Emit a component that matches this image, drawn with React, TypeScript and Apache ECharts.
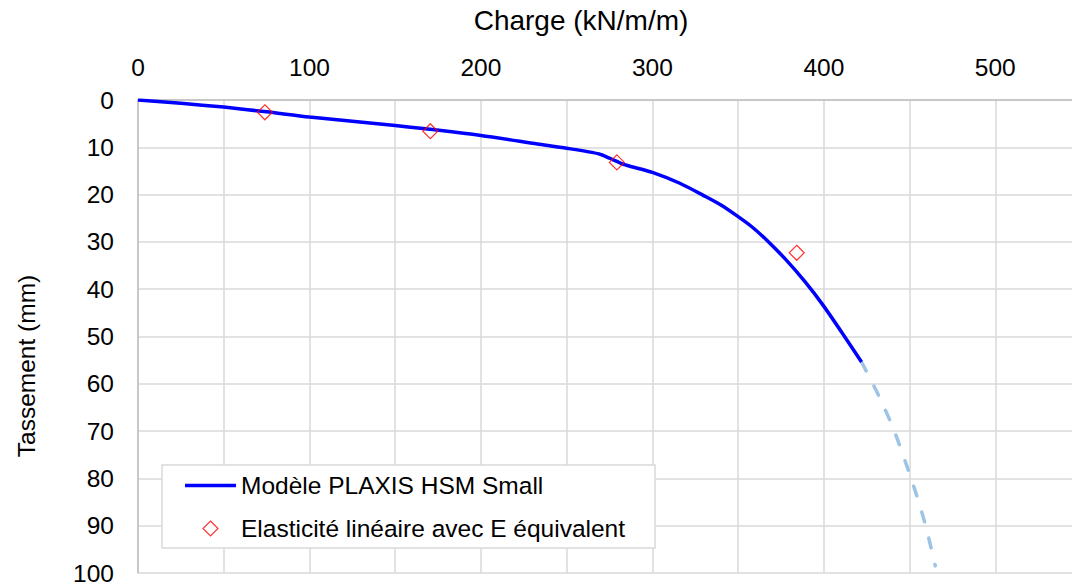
import React, { useEffect, useRef } from "react";
import * as echarts from "echarts";

const xTitle = "Charge (kN/m/m)";
const yTitle = "Tassement (mm)";
const plaxisName = "Modèle PLAXIS HSM Small";
const elasticName = "Elasticité linéaire avec E équivalent";

// PLAXIS curve [charge, tassement]
const plaxisData: number[][] = [
  [0, 0], [25, 0.7], [50, 1.5], [75, 2.5], [100, 3.6], [150, 5.4], [200, 7.5],
  [233, 9.3], [250, 10.2], [269, 11.4], [275, 12.3], [280, 13.1], [285, 13.8],
  [300, 15.3], [316, 17.6], [331, 20.4], [340, 22.2], [349, 24.4], [358, 26.8],
  [366, 29.4], [378, 33.8], [389, 38.4], [399, 43.1], [411, 49.4], [422, 55.4],
];
// Extrapolated (dashed) part
const extrapData: number[][] = [
  [422, 55.4], [432, 62.5], [441, 69.9], [452, 81.2], [459, 89.5], [465, 98.5],
];
// Linear elasticity points
const elasticData: number[][] = [
  [74, 2.6], [170.5, 6.6], [279.3, 13.2], [384.2, 32.3],
];

const FONT = "'Liberation Sans', Arial, sans-serif";

export default function App() {
  const ref = useRef<HTMLDivElement>(null);
  useEffect(() => {
    document.body.style.margin = "0";
    const chart = echarts.init(ref.current!, undefined, { renderer: "svg" });
    chart.setOption({
      animation: false,
      textStyle: { fontFamily: FONT },
      grid: {
        left: 138,
        top: 100,
        width: 943,
        height: 473,
        containLabel: false,
        outerBoundsMode: "none",
      },
      xAxis: {
        type: "value",
        position: "top",
        min: 0,
        max: 550,
        interval: 50,
        axisLine: { show: true, onZero: false, lineStyle: { color: "#bfbfbf", width: 1.5 } },
        axisTick: { show: false },
        axisLabel: {
          color: "#000",
          fontSize: 24.5,
          fontFamily: FONT,
          margin: 20,
          formatter: (v: number) => (v % 100 === 0 && v <= 500 ? String(v) : ""),
        },
        splitLine: { show: true, lineStyle: { color: "#d9d9d9", width: 1.5 } },
      },
      yAxis: {
        type: "value",
        inverse: true,
        min: 0,
        max: 100,
        interval: 10,
        axisLine: { show: true, onZero: false, lineStyle: { color: "#bfbfbf", width: 1.5 } },
        axisTick: { show: false },
        axisLabel: { color: "#000", fontSize: 24.5, fontFamily: FONT, margin: 24 },
        splitLine: { show: true, lineStyle: { color: "#d9d9d9", width: 1.5 } },
      },
      legend: {
        orient: "vertical",
        left: 162,
        top: 465,
        padding: [8, 30, 7, 23],
        itemGap: 18,
        itemWidth: 51,
        itemHeight: 15,
        symbolKeepAspect: true,
        backgroundColor: "#fff",
        borderColor: "#d9d9d9",
        borderWidth: 1.5,
        textStyle: { color: "#000", fontSize: 24.5, fontFamily: FONT, lineHeight: 24 },
        data: [
          {
            name: plaxisName,
            icon: "path://M0,0 L51,0 L51,3.5 L0,3.5 Z",
            itemStyle: { color: "#0000ff", borderWidth: 0 },
          },
          {
            name: elasticName,
            icon: "path://M7.5,0 L15,7.5 L7.5,15 L0,7.5 Z",
            itemStyle: { color: "rgba(0,0,0,0)", borderColor: "#ff0000", borderWidth: 1.2 },
          },
        ],
      },
      graphic: [
        {
          type: "text",
          x: 581,
          y: 20,
          style: { text: xTitle, fill: "#000", font: `28px ${FONT}`, align: "center", verticalAlign: "middle" },
        },
        {
          type: "text",
          x: 26,
          y: 366,
          rotation: Math.PI / 2,
          style: { text: yTitle, fill: "#000", font: `24.5px ${FONT}`, align: "center", verticalAlign: "middle" },
        },
      ],
      series: [
        {
          type: "line",
          name: "extrap",
          data: extrapData,
          smooth: 0.3,
          symbol: "none",
          lineStyle: { color: "#9dc3e6", width: 3.5, type: [10, 17], cap: "round" },
          z: 2,
        },
        {
          type: "line",
          name: plaxisName,
          data: plaxisData,
          smooth: 0.25,
          symbol: "none",
          showSymbol: false,
          lineStyle: { color: "#0000ff", width: 3.5 },
          itemStyle: { color: "#0000ff" },
          z: 3,
        },
        {
          type: "scatter",
          name: elasticName,
          data: elasticData,
          symbol: "diamond",
          symbolSize: 15,
          itemStyle: { color: "rgba(0,0,0,0)", borderColor: "#ff0000", borderWidth: 1.2 },
          z: 4,
        },
      ],
    });
    return () => chart.dispose();
  }, []);
  return <div ref={ref} style={{ width: 1072, height: 584 }} />;
}
